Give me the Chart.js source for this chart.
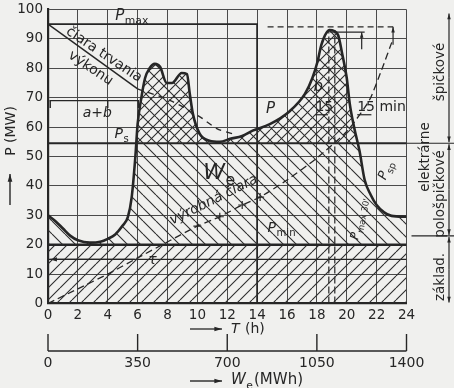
<!DOCTYPE html>
<html>
<head>
<meta charset="utf-8">
<script src="https://cdn.jsdelivr.net/npm/chart.js@4.4.1/dist/chart.umd.min.js"></script>
<style>
html, body { margin: 0; padding: 0; background: #f0f0ee; }
canvas { display: block; }
</style>
</head>
<body>
<canvas id="graf" width="454" height="388"></canvas>
<script>
//DATA
const hodiny = [0, 0.5, 1, 1.5, 2, 2.8, 3.5, 4, 4.5, 5, 5.35, 5.6, 5.85, 6.0, 6.25, 6.5, 6.8, 7.15, 7.5, 7.95, 8.3, 8.95, 9.3, 9.5, 9.7, 10.15, 10.8, 11.5, 12.2, 13, 13.7, 14.85, 16.2, 17.2, 17.7, 18.05, 18.3, 18.85, 19.4, 19.7, 20, 20.2, 20.5, 20.85, 21.2, 21.6, 22, 22.5, 23, 24];
const vykon  = [30, 28, 25.5, 23, 21.5, 20.7, 21, 22, 23.5, 26.5, 29.5, 36, 50, 61, 70, 76.7, 80, 81.5, 80.5, 75, 75, 78.4, 78, 71, 64.5, 57.8, 55.4, 55, 56, 57, 58.8, 61, 65.5, 71.3, 76.7, 82.4, 88, 93, 91.5, 84.8, 76.7, 68, 59.8, 52, 42, 37, 33.5, 31, 29.8, 29.5];
const trvanieT = [0, 6];            // ciara trvania vykonu (plna cast)
const trvanieP = [95, 73];
const trvanie2T = [6, 8.2, 10.2, 11.3, 12.5]; // pokracovanie (ciarkovane)
const trvanie2P = [73, 69, 63.4, 59.5, 57.5];
const vyrobaT = [0, 2, 4, 6, 8.2, 10, 11.5, 13, 14.2, 16, 18, 20, 21.5, 22.3, 23.1];
const vyrobaP = [0, 5, 10, 15.5, 21.5, 26.3, 29.5, 33.5, 36.2, 42, 49.5, 58.5, 69, 79, 90];
const Pmin = 20, Ps = 54.5, Pmax = 95, Pspicka = 94.1, Ptau = 15, Pab = 69;
const ramT = [0, 14, 14], ramP = [Pmax, Pmax, 0];
const spickaT = [14.7, 23.1];
const stvrtT = [18.8, 19.2];          // 15 min pasmo
const priemerT = [18.9, 21.2], priemerP = [92.3, 92.3];
const tickyT = [0, 2, 4, 6, 8, 10, 12, 14, 16, 18, 20, 22, 24];
const tickyP = [0, 10, 20, 30, 40, 50, 60, 70, 80, 90, 100];
const tickyW = [0, 350, 700, 1050, 1400];
const hraniceP = [99, Ps, 23, 0];     // pravy stlpec: spickove / polospickove / zaklad
//DATA

const graf = document.getElementById('graf');
const ctx = graf.getContext('2d');
const PISMO = "'DejaVu Sans', sans-serif";
const ATRAMENT = '#262626';
const NIC = 'rgba(0,0,0,0)';

//SRAFY
function srafy(smer, krok, hrubka) { //vytvori vzor so sikmymi ciarami
    const c = document.createElement('canvas');
    c.width = krok; c.height = krok;
    const k = c.getContext('2d');
    k.strokeStyle = '#2e2e2e';
    k.lineWidth = hrubka;
    k.beginPath();
    [-krok, 0, krok].forEach(o => {
        if (smer === '/') { k.moveTo(o, krok); k.lineTo(o + krok, 0); }
        else { k.moveTo(o, 0); k.lineTo(o + krok, krok); }
    });
    k.stroke();
    return ctx.createPattern(c, 'repeat');
}
const srafSpat = srafy('\\', 13, 1.1);
const srafVpred = srafy('/', 12, 1.1);
const srafJemny = srafy('/', 10, 1.1);
//SRAFY

const body = (xs, ys) => xs.map((t, i) => ({ x: t, y: ys[i] }));
const ciara = (data, ext) => Object.assign({
    data: data, borderColor: ATRAMENT, borderWidth: 1.4,
    pointRadius: 0, fill: false, tension: 0
}, ext);

//POPISY
function sipka(c, x1, y1, x2, y2, d) { //ciara so sipkou na konci
    const u = Math.atan2(y2 - y1, x2 - x1);
    c.beginPath(); c.moveTo(x1, y1); c.lineTo(x2, y2); c.stroke();
    c.beginPath();
    c.moveTo(x2, y2);
    c.lineTo(x2 - d * Math.cos(u - 0.3), y2 - d * Math.sin(u - 0.3));
    c.lineTo(x2 - d * Math.cos(u + 0.3), y2 - d * Math.sin(u + 0.3));
    c.closePath(); c.fill();
}
function index(c, hl, sub, x, y, vel, uhol) { //text s dolnym indexom
    c.save();
    c.translate(x, y);
    c.rotate(uhol || 0);
    c.textAlign = 'left'; c.textBaseline = 'alphabetic';
    c.font = `italic ${vel}px ${PISMO}`;
    const w = c.measureText(hl).width;
    c.fillText(hl, 0, 0);
    c.font = `${vel * 0.72}px ${PISMO}`;
    c.fillText(sub, w + 0.5, vel * 0.3);
    c.restore();
}
function text(c, s, x, y, vel, uhol, styl) {
    c.save();
    c.translate(x, y);
    c.rotate(uhol || 0);
    c.font = `${styl || ''} ${vel}px ${PISMO}`;
    c.textAlign = 'center'; c.textBaseline = 'middle';
    c.fillText(s, 0, 0);
    c.restore();
}

const popisy = {
    id: 'popisy',
    afterDraw(chart) {
        const c = chart.ctx;
        const { x, y, xW } = chart.scales;
        const X = t => x.getPixelForValue(t), Y = p => y.getPixelForValue(p);
        c.save();
        c.fillStyle = ATRAMENT; c.strokeStyle = ATRAMENT; c.lineWidth = 1.3;

        // os T
        sipka(c, 190, 329, 222, 329, 8);
        c.font = `italic 14px ${PISMO}`; c.textAlign = 'left'; c.textBaseline = 'middle';
        c.fillText('T', 231, 329);
        c.font = `14px ${PISMO}`;
        c.fillText('(h)', 245, 329);

        // os We
        const yW = 351;
        c.lineWidth = 1.4;
        c.beginPath(); c.moveTo(xW.getPixelForValue(0), yW); c.lineTo(xW.getPixelForValue(1400), yW); c.stroke();
        c.textAlign = 'center';
        tickyW.forEach(w => {
            const px = xW.getPixelForValue(w);
            c.beginPath(); c.moveTo(px, yW); c.lineTo(px, yW - 17); c.stroke();
            c.font = `14px ${PISMO}`;
            c.fillText(String(w), px, yW + 12);
        });
        sipka(c, 190, 381, 222, 381, 8);
        index(c, 'W', 'e', 231, 384, 15);
        c.font = `15px ${PISMO}`; c.textAlign = 'left'; c.textBaseline = 'alphabetic';
        c.fillText('(MWh)', 254, 384);

        // os P
        text(c, 'P (MW)', 11, 131, 14, -Math.PI / 2);
        sipka(c, 10, 205, 10, 174, 8);

        // pravy stlpec
        const xr = 449;
        c.lineWidth = 1.2;
        c.beginPath(); c.moveTo(X(24), Y(Ps)); c.lineTo(454, Y(Ps)); c.stroke();
        c.beginPath(); c.moveTo(X(24) + 5, Y(hraniceP[2])); c.lineTo(454, Y(hraniceP[2])); c.stroke();
        for (let i = 0; i < hraniceP.length - 1; i++) {
            const a = Y(hraniceP[i]), b = Y(hraniceP[i + 1]);
            const s = (a + b) / 2;
            sipka(c, xr, s, xr, a + 1, 6);
            sipka(c, xr, s, xr, b - 1, 6);
        }
        text(c, 'špičkové', 440, 72, 13.5, -Math.PI / 2);
        text(c, 'elektrárne', 425, 157, 13.5, -Math.PI / 2);
        text(c, 'pološpičkové', 440, 194, 13.5, -Math.PI / 2);
        text(c, 'základ.', 440, 277, 13.5, -Math.PI / 2);

        // popisy v grafe
        index(c, 'P', 'max', X(4.5), Y(96.5), 15);
        text(c, 'čiara trvania', X(3.75), Y(84.6), 14, 0.59);
        text(c, 'výkonu', X(2.85), Y(80.0), 14, 0.59);
        // zatvorka a+b
        c.lineWidth = 1.4;
        c.beginPath(); c.moveTo(X(0.1), Y(Pab)); c.lineTo(X(6.1), Y(Pab)); c.stroke();
        [0.15, 4, 6.05].forEach(t => { c.beginPath(); c.moveTo(X(t), Y(Pab)); c.lineTo(X(t), Y(Pab - 2.5)); c.stroke(); });
        text(c, 'a+b', X(3.3), Y(64.6), 14, 0, 'italic');
        index(c, 'P', 's', X(4.45), Y(56.3), 14);
        index(c, 'W', 'e', X(10.4), Y(42.5), 22);
        text(c, 'výrobná čiara', X(11.1), Y(35.2), 14, -0.46, 'italic');
        text(c, 'τ', X(7.0), Y(14.8), 14, 0, 'italic');
        sipka(c, X(5.8), Y(Ptau), X(0.15), Y(Ptau), 7);
        index(c, 'P', 'min', X(14.7), Y(24.4), 14);
        index(c, 'P', 'max 30\'', X(20.75), Y(21.5), 12, -1.38);
        index(c, 'P', 'sp', X(22.6), Y(41.8), 13, -1.2);
        text(c, 'P', X(14.9), Y(66), 15, 0, 'italic');
        text(c, 'b', X(18.1), Y(73.5), 15, 0, 'italic');
        c.font = `14px ${PISMO}`; c.textAlign = 'left'; c.textBaseline = 'alphabetic';
        c.fillText('15', X(17.9), Y(65.5));
        c.fillText('15 min', X(20.7), Y(65.5));
        c.lineWidth = 1.2;
        c.beginPath(); c.moveTo(X(17.9), Y(64.2)); c.lineTo(X(18.75), Y(64.2)); c.stroke();
        c.beginPath(); c.moveTo(X(20.7), Y(64.2)); c.lineTo(X(21.65), Y(64.2)); c.stroke();
        // sipky pri spicke
        sipka(c, X(21.0), Y(86.5), X(21.0), Y(priemerP[0]), 6);
        sipka(c, X(23.1), Y(88), X(23.1), Y(Pspicka), 6);
        c.restore();
    }
};
//POPISY

//GRAF
const datasets = [
    ciara(body(hodiny, vykon), { borderWidth: 2.6, cubicInterpolationMode: 'monotone',
        fill: { target: { value: Pmin }, above: srafSpat, below: NIC } }),
    ciara(body(hodiny, vykon), { borderColor: NIC, borderWidth: 1, cubicInterpolationMode: 'monotone',
        fill: { target: { value: Ps }, above: srafJemny, below: NIC } }),
    ciara(body([0, 24], [Pmin, Pmin]), { borderWidth: 2.4, fill: 'origin', backgroundColor: srafVpred }),
    ciara(body([0, 24], [Ps, Ps]), { borderWidth: 2.2 }),
    ciara(body([0, 24], [Ptau, Ptau]), { borderWidth: 1.1 }),
    ciara(body(ramT, ramP), { borderWidth: 1.8 }),
    ciara(body(spickaT, [Pspicka, Pspicka]), { borderWidth: 1.3, borderDash: [6, 4] }),
    ciara(body(priemerT, priemerP), { borderWidth: 1.3 }),
    ciara(body([stvrtT[0], stvrtT[0]], [0, 93]), { borderWidth: 1.2, borderDash: [7, 3] }),
    ciara(body([stvrtT[1], stvrtT[1]], [0, 93]), { borderWidth: 1.2, borderDash: [7, 3] }),
    ciara(body(trvanieT, trvanieP), { borderWidth: 1.5 }),
    ciara(body(trvanie2T, trvanie2P), { borderWidth: 1.3, borderDash: [6, 5], tension: 0.3 }),
    ciara(body(vyrobaT, vyrobaP), { borderWidth: 1.3, borderDash: [7, 4], tension: 0.2,
        pointStyle: 'cross', pointBorderColor: ATRAMENT, pointBorderWidth: 1.2,
        pointRadius: k => (k.raw && k.raw.x > 9 && k.raw.x < 15) ? 4 : 0 })
];

const oska = (min, max, krok, ticky) => ({
    type: 'linear', min: min, max: max,
    ticks: { stepSize: krok, autoSkip: false, maxRotation: 0, color: ATRAMENT,
        font: { family: PISMO, size: 13.5 } },
    afterBuildTicks: s => { s.ticks = ticky.map(v => ({ value: v })); },
    grid: { color: '#4a4a4a', lineWidth: 1, drawTicks: false },
    border: { color: ATRAMENT, width: 2.2 }
});

const config = {
    type: 'line',
    data: { datasets: datasets },
    options: {
        responsive: false,
        animation: false,
        events: [],
        layout: { padding: { top: 9.5, right: 47.5, left: 0, bottom: 0 } },
        plugins: { legend: { display: false }, tooltip: { enabled: false } },
        scales: {
            x: Object.assign(oska(0, 24, 2, tickyT), {
                position: 'bottom',
                afterFit: s => { s.height = 84.5; s.paddingLeft = 0; s.paddingRight = 0; }
            }),
            xW: { type: 'linear', min: 0, max: 1400, position: 'bottom', display: false },
            y: Object.assign(oska(0, 100, 10, tickyP), {
                afterFit: s => { s.width = 48; s.paddingTop = 0; s.paddingBottom = 0; }
            })
        }
    },
    plugins: [popisy]
};
config.options.scales.x.ticks.padding = 4;
config.options.scales.y.ticks.padding = 5;

new Chart(graf, config);
//GRAF
</script>
</body>
</html>
